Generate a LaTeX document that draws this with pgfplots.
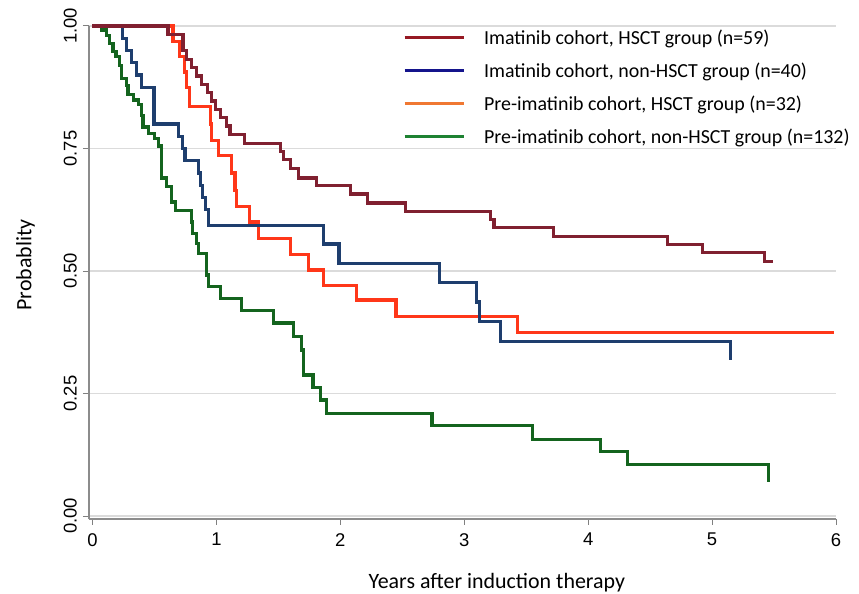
\documentclass[border=0pt]{standalone}
\usepackage{fontspec}
\setmainfont{Carlito}
\newfontfamily\tickfont{Liberation Sans}
\usepackage{pgfplots}
\pgfplotsset{compat=1.18}
\definecolor{cDR}{RGB}{128,32,48}
\definecolor{cBL}{RGB}{30,62,110}
\definecolor{cRD}{RGB}{255,55,25}
\definecolor{cGR}{RGB}{20,100,30}
\definecolor{lDR}{RGB}{150,25,35}
\definecolor{lBL}{RGB}{20,20,140}
\definecolor{lRD}{RGB}{240,120,50}
\definecolor{lGR}{RGB}{30,130,50}
\begin{document}
\begin{tikzpicture}
\path[use as bounding box] (-89bp,-75bp) rectangle (770bp,519bp);
\begin{axis}[
  scale only axis, width=747bp, height=493bp,
  xmin=-0.028, xmax=6.0, ymin=-0.006, ymax=1.0,
  clip=false,
  axis x line*=bottom, axis y line*=left,
  x axis line style={-}, y axis line style={-},
  axis line style={color=black!45, line width=1.3bp},
  xtick={0,1,2,3,4,5,6}, xticklabels={0,1,2,3,4,5,6},
  ytick={0,0.25,0.5,0.75,1}, yticklabels={0.00,0.25,0.50,0.75,1.00},
  tick align=outside, major tick length=6bp,
  tick style={color=black!50, line width=1bp},
  ymajorgrids, grid style={color=black!14, line width=1.2bp},
  ticklabel style={font=\tickfont\fontsize{18.5}{21}\selectfont},
  yticklabel style={rotate=90, anchor=south, inner sep=6bp},
  xticklabel style={anchor=north, inner sep=2bp, yshift=-6bp},
  legend style={at={(axis description cs:0.42,0.997)}, anchor=north west, draw=none, fill=none,
    font=\fontsize{20}{23}\selectfont, row sep=13bp, inner sep=0pt,
    /tikz/every odd column/.append style={column sep=17bp}},
  legend cell align=left,
  legend image code/.code={\draw[#1, line width=3.2bp] (0bp,0bp) -- (59bp,0bp);},
  every axis plot/.append style={line width=3.2bp, const plot mark left, line join=miter},
]
\addlegendimage{lDR}\addlegendentry{Imatinib cohort, HSCT group (n=59)}
\addlegendimage{lBL}\addlegendentry{Imatinib cohort, non-HSCT group (n=40)}
\addlegendimage{lRD}\addlegendentry{Pre-imatinib cohort, HSCT group (n=32)}
\addlegendimage{lGR}\addlegendentry{Pre-imatinib cohort, non-HSCT group (n=132)}

% Pre-imatinib, non-HSCT (green)
\addplot[cGR, forget plot] coordinates {
(0,1) (0.07,0.992) (0.11,0.98) (0.14,0.965) (0.165,0.948) (0.19,0.937) (0.22,0.92)
(0.233,0.893) (0.273,0.878) (0.287,0.86) (0.33,0.849) (0.37,0.84) (0.394,0.818)
(0.408,0.794) (0.45,0.781) (0.50,0.77) (0.53,0.755) (0.555,0.73) (0.56,0.69)
(0.60,0.672) (0.64,0.641) (0.667,0.624) (0.80,0.60) (0.81,0.577) (0.84,0.556)
(0.855,0.536) (0.923,0.492) (0.936,0.468) (1.03,0.444) (1.205,0.42) (1.46,0.394)
(1.62,0.367) (1.69,0.339) (1.70,0.288) (1.78,0.262) (1.84,0.237) (1.89,0.21)
(2.74,0.184) (3.55,0.157) (4.10,0.131) (4.32,0.106) (5.456,0.07)
};
% Pre-imatinib, HSCT (red)
\addplot[cRD, forget plot] coordinates {
(0,1) (0.65,0.969) (0.70,0.938) (0.74,0.906) (0.76,0.875) (0.78,0.836) (0.95,0.80)
(0.96,0.767) (1.017,0.735) (1.125,0.70) (1.15,0.665) (1.165,0.632) (1.27,0.60)
(1.34,0.567) (1.60,0.533) (1.745,0.502) (1.865,0.471) (2.13,0.441) (2.45,0.408)
(3.43,0.375) (5.98,0.375)
};
% Imatinib, non-HSCT (blue)
\addplot[cBL, forget plot] coordinates {
(0,1) (0.244,0.975) (0.277,0.95) (0.317,0.925) (0.356,0.90) (0.398,0.875)
(0.497,0.80) (0.694,0.775) (0.729,0.75) (0.747,0.725) (0.855,0.70) (0.869,0.675)
(0.89,0.65) (0.91,0.625) (0.936,0.593) (1.865,0.555) (1.99,0.516) (2.80,0.476)
(3.10,0.437) (3.12,0.397) (3.29,0.357) (5.15,0.318)
};
% Imatinib, HSCT (dark red)
\addplot[cDR, forget plot] coordinates {
(0,1) (0.61,0.983) (0.73,0.95) (0.76,0.932) (0.80,0.915) (0.84,0.898) (0.88,0.881)
(0.93,0.864) (0.96,0.847) (0.99,0.83) (1.03,0.813) (1.08,0.796) (1.11,0.778)
(1.23,0.761) (1.515,0.744) (1.54,0.727) (1.60,0.71) (1.66,0.69) (1.81,0.675)
(2.08,0.657) (2.22,0.639) (2.525,0.622) (3.21,0.605) (3.24,0.589) (3.72,0.571)
(4.64,0.554) (4.92,0.537) (5.42,0.519) (5.49,0.519)
};
\node[rotate=90, font=\fontsize{22}{25}\selectfont] at (axis description cs:-0.0850,0.515) {Probablity};
\node[font=\fontsize{22}{25}\selectfont] at (axis description cs:0.546,-0.130) {Years after induction therapy};
\end{axis}
\end{tikzpicture}
\end{document}
